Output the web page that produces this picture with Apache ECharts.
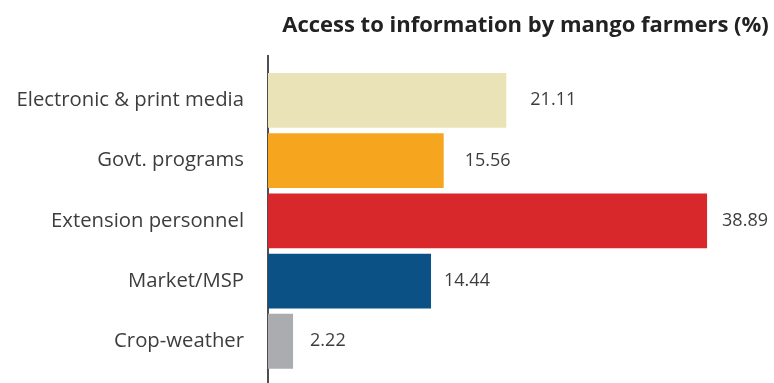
<!DOCTYPE html>
<html><head><meta charset="utf-8">
<script src="https://cdn.jsdelivr.net/npm/echarts@6/dist/echarts.min.js"></script>
<style>html,body{margin:0;padding:0;background:#fff}#c{width:774px;height:383px}</style>
</head><body><div id="c"></div>
<script>
const categories = ['Electronic & print media','Govt. programs','Extension personnel','Market/MSP','Crop-weather'];
const values = [21.11, 15.56, 38.89, 14.44, 2.22];
const colors = ['#EAE3B7','#F6A51F','#D9282B','#0B5186','#ABACB0'];
const labelGaps = [24, 21, 15, 13, 17];
const titleText = 'Access to information by mango farmers (%)';

const chart = echarts.init(document.getElementById('c'));
const font = '"Open Sans", "Noto Sans", sans-serif';
chart.setOption({
  animation:false,
  title:{text:titleText, left:520.5, top:10, textAlign:'center',
    textStyle:{fontFamily:font, fontSize:22, fontWeight:'bold', color:'#222'}},
  grid:{left:268, right:54.4, top:70.2, bottom:11.6, containLabel:false},
  xAxis:{type:'value', min:0, max:40, show:false},
  yAxis:{type:'category', data:categories, inverse:true,
    axisLine:{show:false}, axisTick:{show:false},
    axisLabel:{fontFamily:font, fontSize:20.3, color:'#3d3d3d', margin:24}},
  series:[{type:'bar', barCategoryGap:'9%',
    data: values.map((v,i)=>({value:v, itemStyle:{color:colors[i]}, label:{distance:labelGaps[i]}})),
    label:{show:true, position:'right', fontFamily:font, fontSize:18, color:'#3d3d3d',
      formatter:p=>p.value.toFixed(2)}}]
});
const x0 = chart.convertToPixel({xAxisIndex:0}, 0);
chart.setOption({graphic:[{type:'line', shape:{x1:x0, y1:55, x2:x0, y2:383}, style:{stroke:'#222', lineWidth:1.6}}]});
</script></body></html>
